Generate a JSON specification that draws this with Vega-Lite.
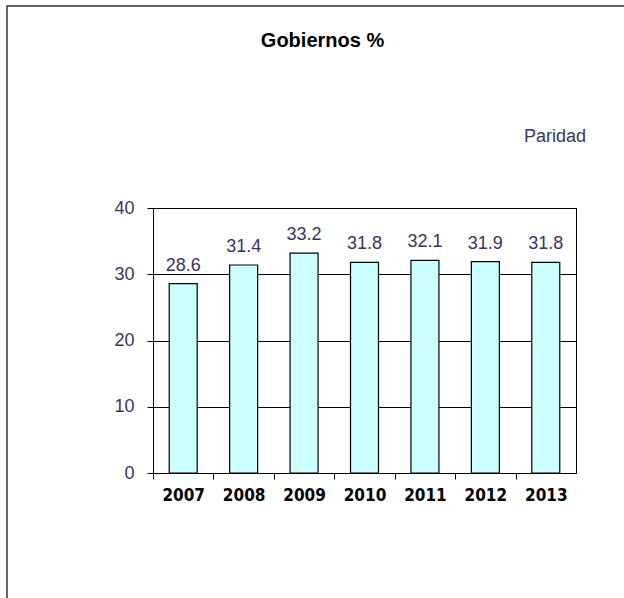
{
  "$schema": "https://vega.github.io/schema/vega-lite/v6.json",
  "width": 423,
  "height": 265,
  "autosize": "none",
  "padding": {"left": 153, "top": 208, "right": 48, "bottom": 125},
  "background": "white",
  "title": {
    "text": "Gobiernos %",
    "font": "Liberation Sans",
    "fontSize": 20,
    "fontWeight": "bold",
    "color": "black",
    "anchor": "middle",
    "frame": "group",
    "baseline": "alphabetic",
    "offset": -62,
    "dx": -42
  },
  "data": {
    "values": [
      {"year": "2007", "value": 28.6, "serie": "Paridad", "grafico": "Gobiernos"},
      {"year": "2008", "value": 31.4, "serie": "Paridad", "grafico": "Gobiernos"},
      {"year": "2009", "value": 33.2, "serie": "Paridad", "grafico": "Gobiernos"},
      {"year": "2010", "value": 31.8, "serie": "Paridad", "grafico": "Gobiernos"},
      {"year": "2011", "value": 32.1, "serie": "Paridad", "grafico": "Gobiernos"},
      {"year": "2012", "value": 31.9, "serie": "Paridad", "grafico": "Gobiernos"},
      {"year": "2013", "value": 31.8, "serie": "Paridad", "grafico": "Gobiernos"}
    ]
  },
  "encoding": {
    "x": {
      "field": "year",
      "type": "ordinal",
      "scale": {"paddingInner": 0.537, "paddingOuter": 0.2685},
      "axis": {
        "title": null,
        "labelAngle": 0,
        "labelFont": "DejaVu Sans Condensed",
        "labelFontWeight": "bold",
        "labelFontSize": 17,
        "labelColor": "black",
        "labelPadding": 8,
        "domainColor": "black",
        "tickColor": "black",
        "tickSize": 6,
        "tickOffset": -30.2,
        "labelOffset": 30.2
      }
    },
    "y": {
      "field": "value",
      "type": "quantitative",
      "scale": {"domain": [0, 40], "nice": false},
      "axis": {
        "title": null,
        "values": [0, 10, 20, 30, 40],
        "labelFont": "Liberation Sans",
        "labelFontSize": 18,
        "labelColor": "#3a3366",
        "labelPadding": 13,
        "domainColor": "black",
        "tickColor": "black",
        "tickSize": 6,
        "grid": true,
        "gridColor": "black",
        "gridOpacity": 1
      }
    }
  },
  "layer": [
    {
      "mark": {"type": "bar", "stroke": "black", "strokeWidth": 1.2},
      "encoding": {
        "color": {
          "field": "serie",
          "type": "nominal",
          "scale": {"range": ["#CCFFFF"]},
          "legend": {
            "title": null,
            "orient": "none",
            "legendX": 353,
            "legendY": -80,
            "strokeColor": null,
            "symbolSize": 0,
            "symbolStrokeWidth": 0,
            "symbolOpacity": 0,
            "labelOffset": 0,
            "labelFont": "Liberation Sans",
            "labelFontSize": 18,
            "labelColor": "#3a3366"
          }
        },
        "opacity": {
          "field": "grafico",
          "type": "nominal",
          "scale": {"range": [1]},
          "legend": {
            "title": null,
            "orient": "none",
            "legendX": -146,
            "legendY": -202,
            "padding": 400,
            "strokeColor": "#333333",
            "symbolSize": 0,
            "symbolStrokeWidth": 0,
            "symbolOpacity": 0,
            "labelExpr": "''",
            "labelOffset": 0
          }
        }
      }
    },
    {
      "mark": {"type": "text", "baseline": "middle", "dy": -18, "font": "Liberation Sans", "fontSize": 18, "color": "#3a3366"},
      "encoding": {"text": {"field": "value", "type": "quantitative", "format": ".1f"}}
    }
  ],
  "config": {
    "view": {"stroke": "black", "strokeWidth": 1},
    "legend": {"strokeWidth": 1.5}
  }
}
